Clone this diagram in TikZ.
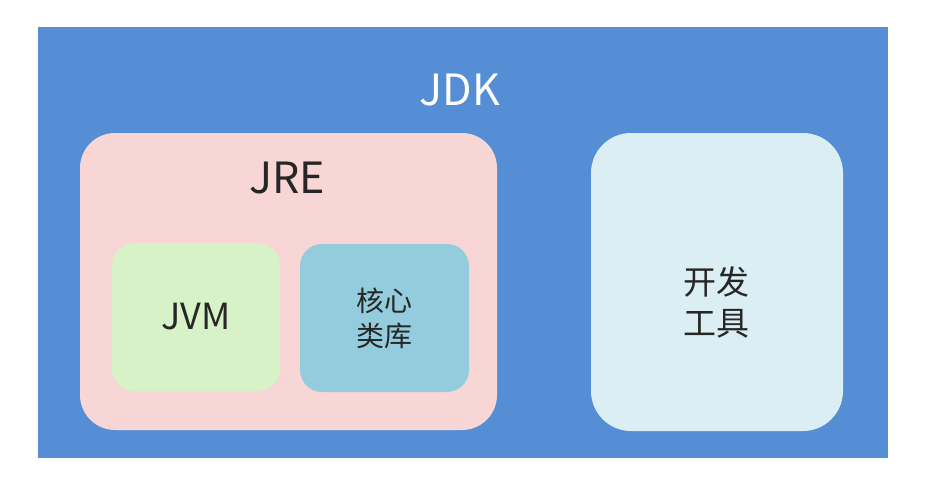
\documentclass[tikz,border=0pt]{standalone}
\usepackage{fontspec}
\usepackage{xcolor}
\usepackage{tikz}
\newfontfamily\cjk{Noto Sans CJK SC}
\definecolor{jdkblue}{RGB}{85, 142, 213}
\definecolor{jrepink}{RGB}{249, 214, 214}
\definecolor{jvmgreen}{RGB}{215, 242, 199}
\definecolor{libteal}{RGB}{147, 205, 221}
\definecolor{toolblue}{RGB}{218, 238, 243}
\definecolor{textgray}{RGB}{38, 38, 38}

\tikzset{
  panel/.style={rectangle, inner sep=0pt, outer sep=0pt, draw=none, font=\cjk, text=textgray, align=center},
  bigtext/.style={font=\cjk\fontsize{43}{52}\selectfont, inner sep=0pt}
}

\begin{document}
\begin{tikzpicture}[x=1pt,y=-1pt]
                \useasboundingbox[fill=white] (0,0) rectangle (927,483);

                \node[panel,fill=jdkblue,minimum width=850pt,minimum height=431pt] (jdk) at (463,242.5) {};
                \node[bigtext,text=white] (jdklabel) at (460,90) {JDK};

                \node[panel,fill=jrepink,rounded corners=35pt,minimum width=417pt,minimum height=297pt] (jre) at (288.5,281.5) {};
                \node[bigtext,text=textgray] (jrelabel) at (287,178) {JRE};

                \node[panel,fill=jvmgreen,rounded corners=22pt,minimum width=168pt,minimum height=148pt,
                      font=\cjk\fontsize{36}{42}\selectfont] (jvm) at (196,317) {JVM};
                \node[panel,fill=libteal,rounded corners=22pt,minimum width=169pt,minimum height=148pt,
                      font=\cjk\fontsize{28}{35}\selectfont] (lib) at (384.5,318) {核心\\类库};

                \node[panel,fill=toolblue,rounded corners=40pt,minimum width=252pt,minimum height=298pt] (tools) at (717,282) {};
                \node[panel,font=\cjk\fontsize{33}{41}\selectfont] (toollabel) at (716,302) {开发\\工具};
            \end{tikzpicture}
\end{document}
